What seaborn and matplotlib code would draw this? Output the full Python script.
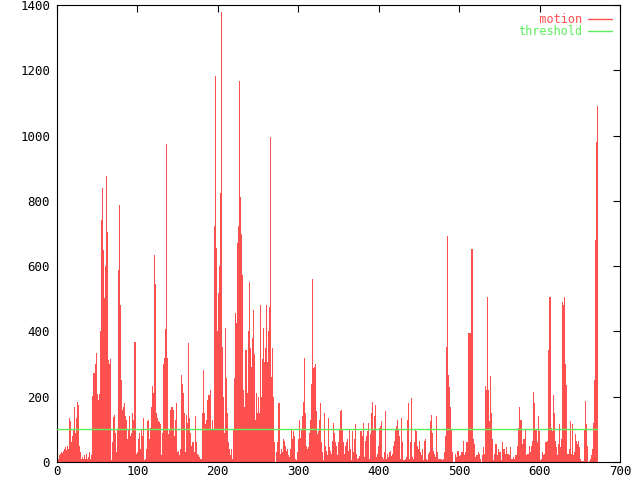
import matplotlib
matplotlib.use("Agg")
import matplotlib.pyplot as plt
from matplotlib.lines import Line2D
import numpy as np
import seaborn as sns

# motion value per frame in blocks of 100 frames
motion_000 = [10, 15, 8, 20, 25, 15, 30, 28, 35, 40,
              30, 45, 38, 50, 40, 134, 40, 127, 60, 80,
              100, 75, 170, 90, 134, 120, 185, 175, 50, 30,
              10, 5, 15, 8, 20, 10, 5, 25, 10, 15,
              30, 12, 8, 20, 202, 230, 274, 260, 300, 335,
              208, 190, 162, 208, 400, 740, 838, 710, 650, 502,
              600, 876, 760, 705, 312, 300, 316, 150, 5, 60,
              137, 110, 145, 90, 30, 100, 130, 588, 787, 480,
              250, 20, 160, 170, 180, 140, 130, 90, 70, 100,
              140, 80, 20, 90, 150, 130, 358, 368, 20, 25]
motion_100 = [30, 70, 90, 60, 40, 100, 80, 95, 135, 5,
              10, 40, 125, 110, 130, 70, 105, 120, 168, 232,
              210, 634, 545, 210, 150, 135, 125, 122, 118, 115,
              20, 90, 110, 300, 318, 407, 974, 318, 70, 85,
              100, 160, 90, 170, 165, 160, 80, 130, 180, 150,
              30, 35, 20, 40, 20, 266, 240, 210, 150, 100,
              30, 145, 120, 365, 135, 135, 90, 50, 60, 45,
              60, 30, 140, 60, 30, 25, 20, 15, 10, 5,
              10, 150, 282, 150, 100, 115, 130, 190, 170, 205,
              160, 220, 100, 130, 60, 100, 723, 1183, 655, 400]
motion_200 = [282, 517, 600, 825, 1380, 774, 353, 200, 90, 312,
              410, 256, 150, 60, 40, 5, 20, 40, 10, 15,
              100, 256, 456, 425, 500, 670, 723, 1167, 812, 700,
              573, 266, 220, 168, 250, 343, 260, 210, 400, 552,
              250, 350, 290, 380, 466, 330, 145, 130, 210, 150,
              70, 200, 150, 480, 200, 150, 315, 410, 305, 350,
              410, 480, 305, 400, 475, 996, 435, 260, 350, 200,
              60, 5, 0, 30, 60, 100, 180, 150, 25, 40,
              30, 15, 70, 65, 50, 35, 40, 5, 20, 15,
              40, 60, 100, 70, 95, 80, 10, 0, 5, 30]
motion_300 = [70, 72, 130, 72, 100, 140, 135, 185, 318, 150,
              50, 25, 40, 45, 90, 130, 135, 240, 560, 287,
              290, 300, 155, 70, 85, 95, 105, 130, 180, 60,
              30, 5, 45, 150, 50, 35, 20, 40, 135, 45,
              35, 25, 30, 65, 120, 90, 60, 40, 50, 20,
              60, 100, 150, 155, 160, 100, 60, 25, 10, 50,
              60, 70, 35, 20, 100, 40, 5, 95, 45, 30,
              70, 115, 25, 8, 10, 12, 18, 15, 95, 45,
              80, 120, 15, 0, 65, 80, 95, 120, 5, 10,
              85, 150, 185, 55, 100, 140, 175, 15, 25, 8]
motion_400 = [50, 105, 110, 125, 20, 15, 10, 30, 155, 80,
              10, 25, 15, 22, 30, 35, 18, 25, 40, 50,
              65, 100, 110, 130, 100, 80, 80, 10, 135, 60,
              15, 5, 5, 8, 10, 15, 130, 180, 10, 8,
              60, 195, 15, 10, 25, 60, 100, 95, 50, 15,
              40, 65, 30, 20, 40, 20, 5, 65, 70, 0,
              10, 5, 25, 30, 115, 125, 145, 90, 35, 25,
              10, 15, 140, 30, 10, 8, 5, 10, 8, 5,
              10, 5, 30, 80, 352, 456, 692, 266, 230, 170,
              100, 25, 30, 0, 0, 10, 25, 15, 35, 35]
motion_500 = [18, 8, 20, 30, 30, 65, 10, 20, 30, 60,
              60, 45, 395, 395, 395, 520, 652, 140, 70, 55,
              15, 20, 20, 22, 30, 25, 8, 8, 0, 20,
              45, 25, 25, 232, 220, 507, 220, 220, 125, 262,
              150, 70, 70, 5, 25, 55, 55, 15, 20, 40,
              30, 30, 15, 5, 60, 40, 40, 25, 10, 45,
              25, 25, 18, 22, 45, 10, 10, 15, 8, 10,
              22, 22, 30, 50, 105, 170, 130, 130, 95, 55,
              70, 70, 8, 100, 20, 25, 25, 8, 50, 30,
              50, 65, 215, 215, 180, 100, 100, 60, 30, 140]
motion_600 = [95, 5, 10, 10, 30, 20, 25, 60, 60, 20,
              65, 343, 507, 507, 150, 105, 95, 205, 150, 100,
              65, 45, 20, 40, 55, 115, 45, 70, 100, 491,
              480, 507, 300, 237, 55, 25, 25, 40, 40, 125,
              25, 115, 20, 10, 30, 85, 65, 55, 65, 45,
              30, 10, 3, 0, 3, 3, 100, 187, 115, 50,
              3, 0, 3, 8, 10, 20, 40, 120, 251, 328,
              680, 981, 1090]

threshold = 100
x_ticks = [0, 100, 200, 300, 400, 500, 600, 700]
y_ticks = [0, 200, 400, 600, 800, 1000, 1200, 1400]

RED = "#ff5050"
GREEN = "#5af05a"

motion = np.array(motion_000 + motion_100 + motion_200 + motion_300
                  + motion_400 + motion_500 + motion_600, dtype=float)
frames = np.arange(len(motion))

sns.set_style("white")
plt.rcParams["font.family"] = ["DejaVu Sans Mono"]

fig, ax = plt.subplots(figsize=(6.4, 4.8), dpi=100)
fig.subplots_adjust(left=57 / 640, right=620 / 640, top=1 - 5 / 480, bottom=1 - 462 / 480)

# impulses - a bit wider than one frame so every one hits at least a pixel
sns.barplot(x=frames, y=motion, native_scale=True, width=1.3, color=RED,
            saturation=1, linewidth=0, errorbar=None, antialiased=False, ax=ax)

# threshold line over the same frames
sns.lineplot(x=[frames[0], frames[-1]], y=[threshold, threshold],
             color=GREEN, linewidth=1, ax=ax, zorder=5)

ax.set_xlim(0, 700)
ax.set_ylim(0, 1400)
ax.set_xticks(x_ticks)
ax.set_yticks(y_ticks)
ax.set_xticklabels([str(t) for t in x_ticks])
ax.set_yticklabels([str(t) for t in y_ticks])
ax.set_xlabel("")
ax.set_ylabel("")
ax.tick_params(direction="in", top=True, right=True, length=5, width=0.8,
               labelsize=9, colors="black")
ax.tick_params(axis="x", pad=2)
ax.tick_params(axis="y", pad=5)
for s in ax.spines.values():
    s.set_visible(True)
    s.set_color("black")
    s.set_linewidth(0.8)

handles = [Line2D([], [], color=RED, lw=1), Line2D([], [], color=GREEN, lw=1)]
ax.legend(handles, ["   motion", "threshold"], loc="upper right", frameon=False,
          markerfirst=False, labelcolor="linecolor", prop={"size": 8.5},
          handlelength=2.0, handletextpad=0.5, labelspacing=-0.1,
          borderaxespad=0.4, borderpad=0.3)

fig.savefig("out.png", dpi=100)
